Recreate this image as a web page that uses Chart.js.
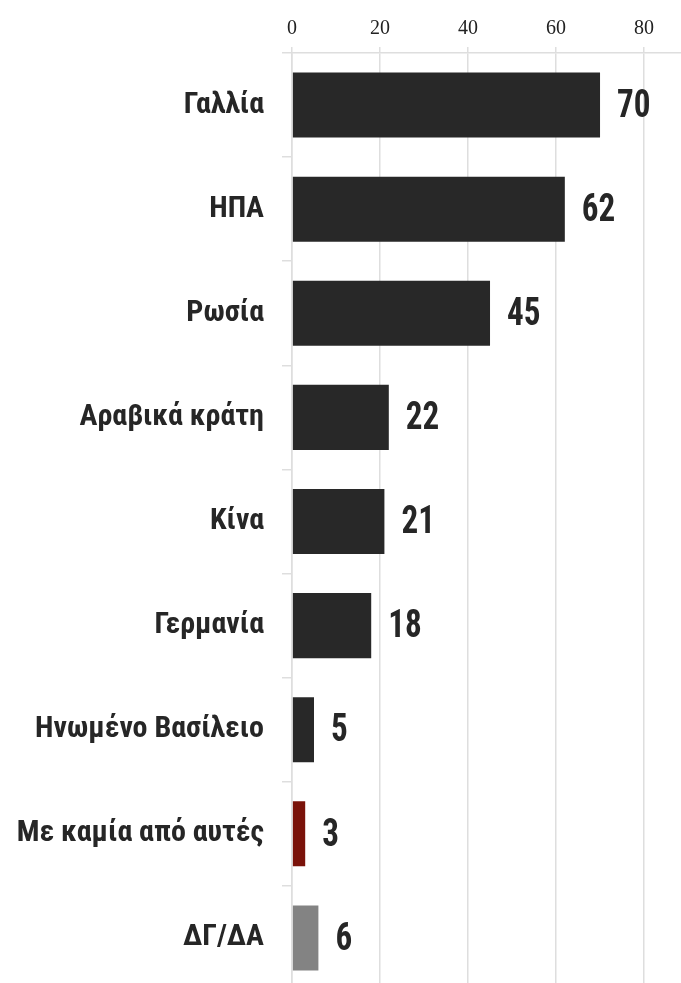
<!DOCTYPE html>
<html>
<head>
<meta charset="utf-8">
<script src="https://cdn.jsdelivr.net/npm/chart.js@4"></script>
<style>
  html, body { margin: 0; padding: 0; background: #fff; overflow: hidden; }
  canvas { display: block; }
</style>
</head>
<body>
<canvas id="pollChart" width="681" height="990"></canvas>
<script>
const labels = ['Γαλλία', 'ΗΠΑ', 'Ρωσία', 'Αραβικά κράτη', 'Κίνα', 'Γερμανία', 'Ηνωμένο Βασίλειο', 'Με καμία από αυτές', 'ΔΓ/ΔΑ'];
const values = [70, 62, 45, 22, 21, 18, 5, 3, 6];
const barColors = ['#282828', '#282828', '#282828', '#282828', '#282828', '#282828', '#282828', '#7a1209', '#838383'];
const xTicks = [0, 20, 40, 60, 80];

// value labels to the right of each bar (narrowed a bit like the original)
const valueLabels = {
    id: 'valueLabels',
    afterDatasetsDraw(chart) {
        const ctx = chart.ctx;
        const meta = chart.getDatasetMeta(0);
        const sx = 0.85;
        ctx.save();
        ctx.font = 'bold 39px "Roboto Condensed", "Liberation Sans Narrow", Roboto, sans-serif';
        ctx.fillStyle = '#262626';
        ctx.textAlign = 'left';
        ctx.textBaseline = 'middle';
        meta.data.forEach((bar, i) => {
            ctx.save();
            ctx.translate(bar.x + 17, bar.y + 2);
            ctx.scale(sx, 1);
            ctx.fillText(String(values[i]), 0, 0);
            ctx.restore();
        });
        ctx.restore();
    }
};

const ctx = document.getElementById('pollChart').getContext('2d');
new Chart(ctx, {
    type: 'bar',
    data: {
        labels: labels,
        datasets: [{
            data: values,
            backgroundColor: barColors,
            borderWidth: 0,
            barPercentage: 0.625,
            categoryPercentage: 1
        }]
    },
    options: {
        indexAxis: 'y',
        responsive: false,
        animation: false,
        layout: { padding: 0 },
        plugins: {
            legend: { display: false },
            tooltip: { enabled: false }
        },
        scales: {
            x: {
                position: 'top',
                min: 0,
                max: 88.4,
                afterBuildTicks: function(scale) {
                    scale.ticks = xTicks.map(v => ({ value: v }));
                },
                afterFit: function(scale) {
                    scale.height = 53;
                },
                grid: {
                    color: '#dedede',
                    lineWidth: 1.5,
                    tickLength: 6
                },
                border: { color: '#dedede', width: 1.5 },
                ticks: {
                    font: { family: '"Liberation Serif", "DejaVu Serif", serif', size: 20 },
                    color: '#222',
                    padding: 6,
                    maxRotation: 0
                }
            },
            y: {
                afterFit: function(scale) {
                    scale.width = 292;
                    // no extra room for the label halves, bars fill to the bottom
                    scale.paddingTop = 0;
                    scale.paddingBottom = 0;
                },
                grid: {
                    drawOnChartArea: false,
                    color: '#dedede',
                    lineWidth: 1.5,
                    tickLength: 10
                },
                border: { color: '#dedede', width: 1.5, z: 1 },
                ticks: {
                    font: { family: '"Roboto Condensed", "Liberation Sans Narrow", Roboto, sans-serif', size: 30, weight: 'bold' },
                    color: '#262626',
                    padding: 18
                }
            }
        }
    },
    plugins: [valueLabels]
});
</script>
</body>
</html>
